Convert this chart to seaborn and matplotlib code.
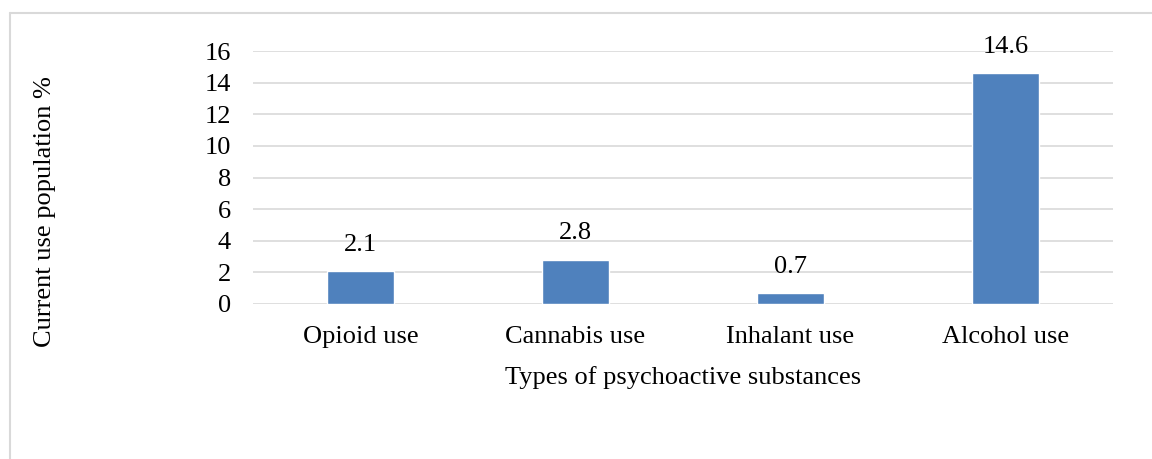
import pandas as pd
import matplotlib.pyplot as plt
import seaborn as sns
from matplotlib.lines import Line2D

substances = ["Opioid use", "Cannabis use", "Inhalant use", "Alcohol use"]
prevalence = [2.1, 2.8, 0.7, 14.6]
yticks = [0, 2, 4, 6, 8, 10, 12, 14, 16]

df = pd.DataFrame({"substance": substances, "pct": prevalence})

sns.set_theme(style="white")
plt.rcParams["font.family"] = ["Liberation Serif", "DejaVu Serif"]
fs = 19

fig = plt.figure(figsize=(11.52, 4.59), dpi=100)
ax = fig.add_axes([253 / 1152, 1 - 304 / 459, 860 / 1152, 253 / 459])

sns.barplot(data=df, x="substance", y="pct", color="#4f81bd", width=0.31,
            saturation=1, ax=ax, zorder=3)

for c in ax.containers:
    ax.bar_label(c, fmt="%.1f", padding=11, fontsize=fs, color="#000000")

ax.set_ylim(0, 16)
ax.set_yticks(yticks)
ax.yaxis.grid(True, color="#d9d9d9", linewidth=1.2, zorder=0)
ax.set_axisbelow(True)
for s in ax.spines.values():
    s.set_visible(False)
ax.tick_params(axis="both", length=0, labelsize=fs, colors="#000000")
ax.tick_params(axis="y", pad=16)
ax.tick_params(axis="x", pad=16)
ax.set_xlabel("Types of psychoactive substances", fontsize=fs, labelpad=13,
              color="#000000")
ax.set_ylabel("")
fig.text(45 / 1152, 1 - 212 / 459, "Current use population %", rotation=90,
         ha="center", va="center", fontsize=fs, color="#000000")

# chart frame (light gray, cut off at right and bottom)
fig.add_artist(Line2D([10 / 1152, 10 / 1152], [0, 1 - 13 / 459],
                      transform=fig.transFigure, color="#d9d9d9", linewidth=1.5))
fig.add_artist(Line2D([10 / 1152, 1], [1 - 13 / 459, 1 - 13 / 459],
                      transform=fig.transFigure, color="#d9d9d9", linewidth=1.5))

fig.savefig("out.png", dpi=100, facecolor="white")
plt.close(fig)
